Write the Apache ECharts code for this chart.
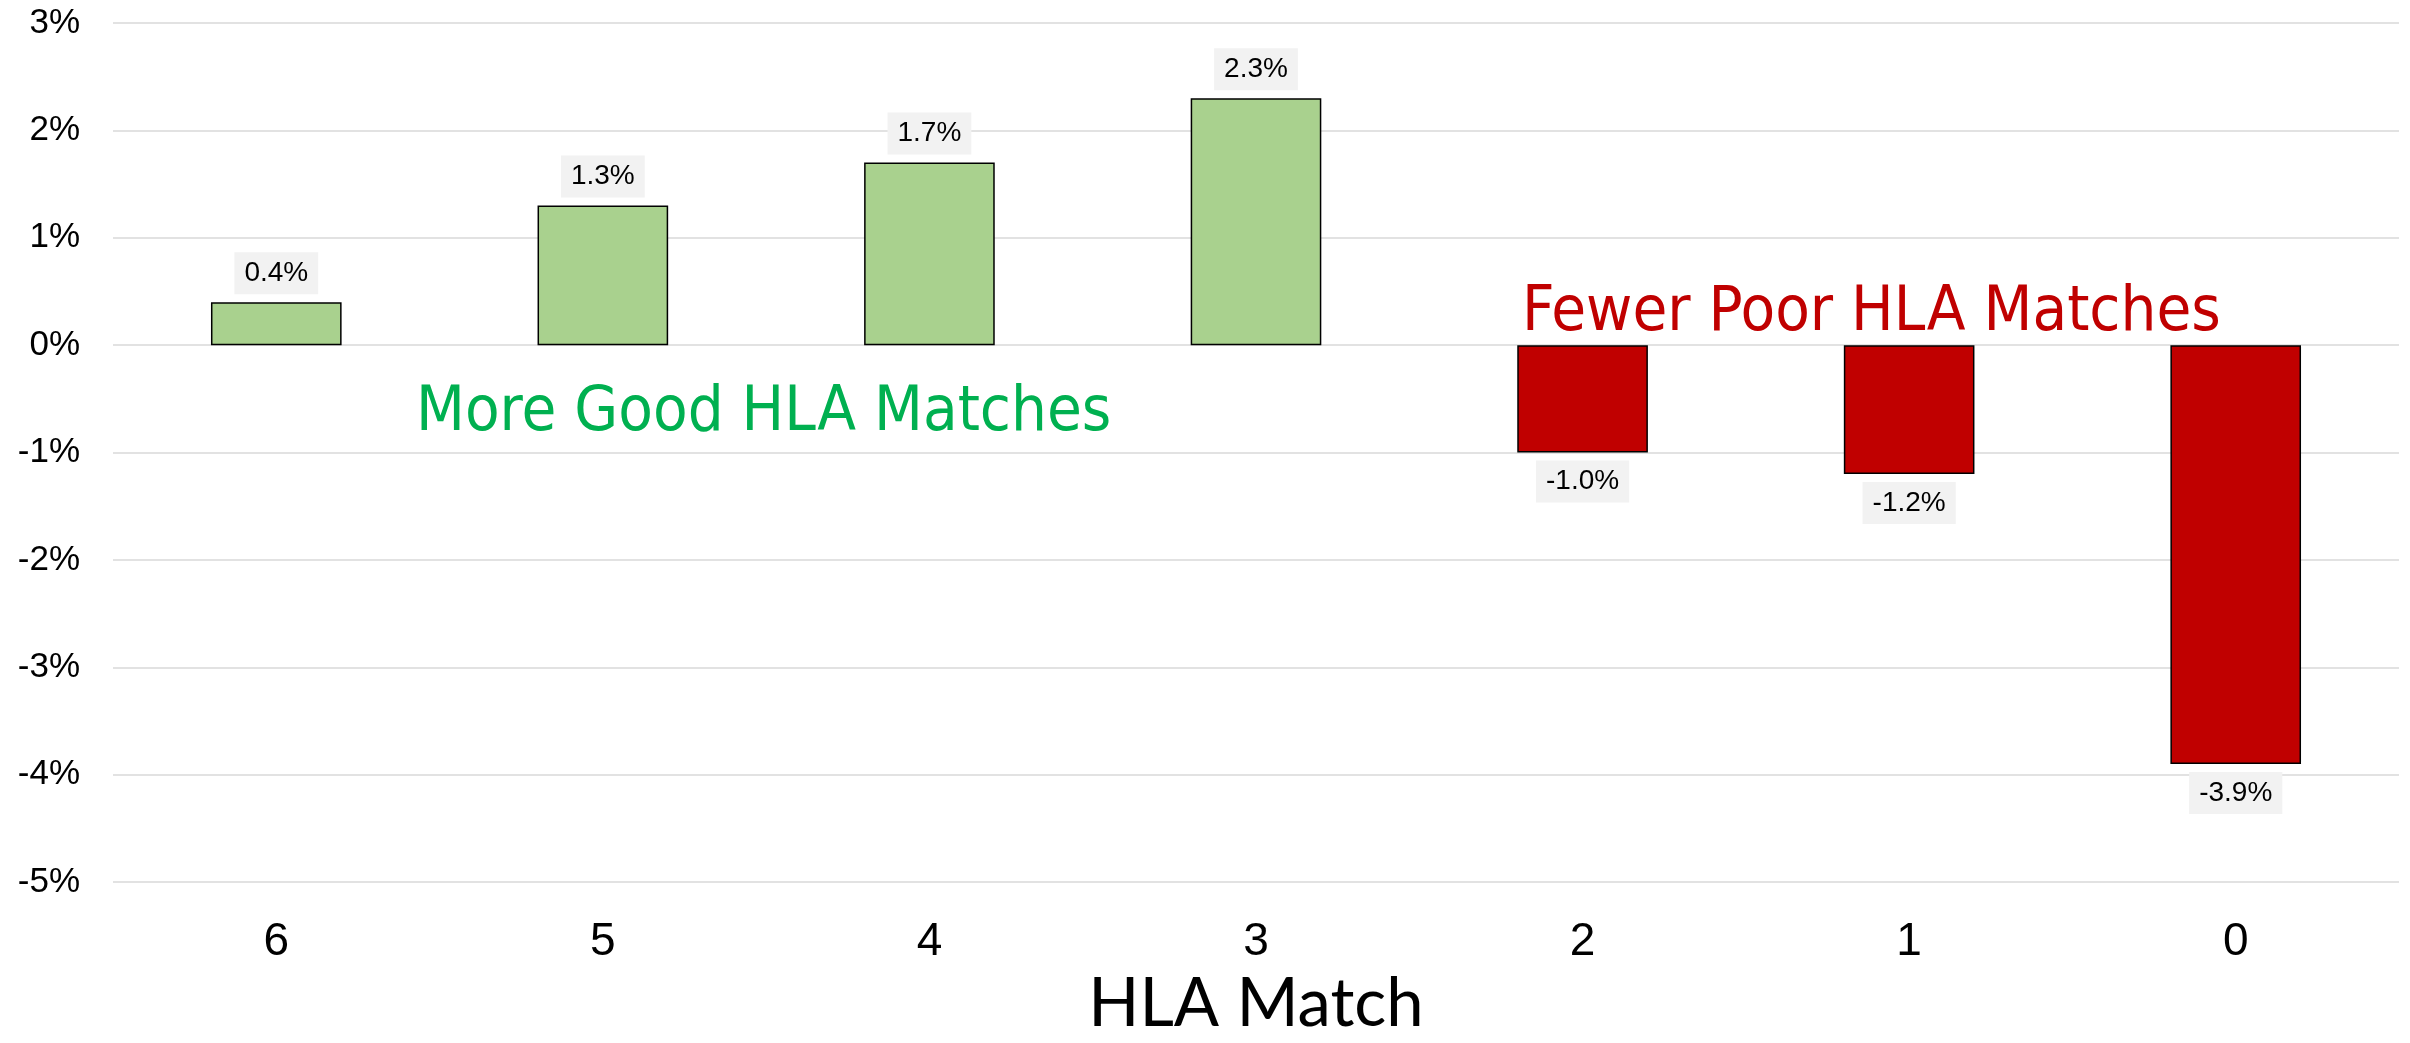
<!DOCTYPE html>
<html>
	<head>
        <meta charset="utf-8" />
		<title>HLA Match</title>
        <script src="https://cdn.jsdelivr.net/npm/echarts@6/dist/echarts.min.js"></script>
        <style>
            html, body { margin: 0; padding: 0; background: #fff; }
        </style>
	</head>
	<body>

       <div id="main" style="width:2410px;height:1043px"></div>

    <script>
      // HLA match categories and change in percent
      var categories = ['6', '5', '4', '3', '2', '1', '0'];
      var values = [0.4, 1.3, 1.7, 2.3, -1.0, -1.2, -3.9];
      var yTicks = { min: -5, max: 3, step: 1 };
      var axisTitle = 'HLA Match';
      var goodText = 'More Good HLA Matches';
      var poorText = 'Fewer Poor HLA Matches';

      var font = '"Liberation Sans", Arial, sans-serif';
      var titleFont = 'Lato, "Liberation Sans", sans-serif';
      var noteFont = '"DejaVu Sans Condensed", Tahoma, "DejaVu Sans", sans-serif';

      // each bar gets its label on the outer side
      var barData = values.map(function (v) {
          return {
              value: v,
              label: { position: v >= 0 ? 'top' : 'bottom' }
          };
      });

      var myChart = echarts.init(document.getElementById('main'));

      var option = {
          backgroundColor: '#ffffff',
          animation: false,
          grid: {
              left: 113,
              right: 11,
              top: 23,
              bottom: 144
          },
          xAxis: {
              type: 'category',
              data: categories,
              axisLine: { show: false },
              axisTick: { show: false },
              axisLabel: {
                  fontFamily: font,
                  fontSize: 46,
                  color: '#000',
                  margin: 37
              },
              name: axisTitle,
              nameLocation: 'middle',
              nameGap: 89,
              nameTextStyle: {
                  fontFamily: titleFont,
                  fontSize: 67,
                  color: '#000'
              }
          },
          yAxis: {
              type: 'value',
              min: yTicks.min,
              max: yTicks.max,
              interval: yTicks.step,
              axisLine: { show: false },
              axisTick: { show: false },
              splitLine: { lineStyle: { color: '#d9d9d9', width: 1.5 } },
              axisLabel: {
                  formatter: '{value}%',
                  fontFamily: font,
                  fontSize: 35,
                  color: '#000',
                  margin: 33
              }
          },
          series: [{
              type: 'bar',
              data: barData,
              barWidth: '40%',
              itemStyle: {
                  color: function (p) {
                      return p.value >= 0 ? '#a9d18e' : '#c00000';
                  },
                  borderColor: '#000',
                  borderWidth: 1.5
              },
              label: {
                  show: true,
                  distance: 8,
                  formatter: function (p) {
                      return p.value.toFixed(1) + '%';
                  },
                  fontFamily: font,
                  fontSize: 28,
                  color: '#000',
                  backgroundColor: '#f2f2f2',
                  padding: [7, 10]
              }
          }],
          graphic: [
              {
                  type: 'text',
                  left: 416,
                  top: 382,
                  style: {
                      text: goodText,
                      fontFamily: noteFont,
                      fontSize: 63,
                      fill: '#00b050'
                  }
              },
              {
                  type: 'text',
                  left: 1522,
                  top: 282,
                  style: {
                      text: poorText,
                      fontFamily: noteFont,
                      fontSize: 63,
                      fill: '#c00000'
                  }
              }
          ]
      };

      myChart.setOption(option);
    </script>
	</body>
</html>
